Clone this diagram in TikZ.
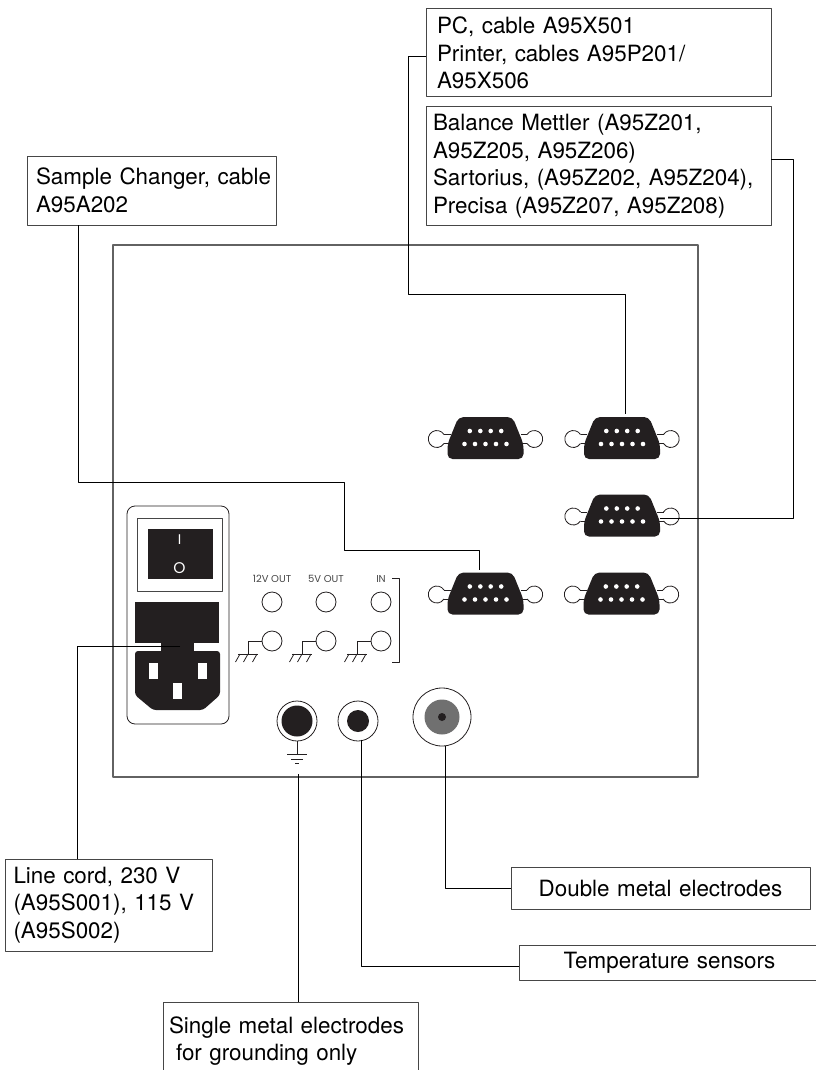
\documentclass[tikz,border=0pt]{standalone}
\usepackage{fontspec}
\setmainfont{TeX Gyre Heros}
\newfontfamily\panelfont{Poppins}
\definecolor{Ink}{RGB}{35,31,32}
\definecolor{Edge}{RGB}{70,70,70}
\definecolor{Sleeve}{RGB}{112,112,112}
\tikzset{
  labelbox/.style={draw=Edge,line width=1pt,outer sep=0pt,inner ysep=0pt,align=left,font=\fontsize{22.4}{27.5}\selectfont},
  wire/.style={draw=black,line width=1pt},
  thinline/.style={draw=Ink,line width=0.8pt},
  plate/.style={draw=Edge!85,line width=1.1pt},
  socket/.style={circle,draw=Ink,line width=0.8pt,fill=white,minimum size=20pt,inner sep=0pt},
  panellabel/.style={text=Edge,inner sep=0pt,font=\panelfont\fontsize{10}{11}\selectfont},
  dsub/.pic={
    \draw[thinline] (-41.5,-3.5) -- (-35,-3.5) (-41.5,5.5) -- (-35,5.5) (41.5,-3.5) -- (35,-3.5) (41.5,5.5) -- (35,5.5);
    \draw[thinline] (-41.5,-3.5) arc[start angle=32,end angle=328,radius=8.5pt];
    \draw[thinline] (41.5,-3.5) arc[start angle=148,end angle=-148,radius=8.5pt];
    \fill[Ink,rounded corners=5pt] (-27,-21) -- (27,-21) -- (38,6) -- (38,21) -- (-38,21) -- (-38,6) -- cycle;
    \foreach \px in {-15.7,-5.2,5.2,15.7} {\fill[white] (\px,-7) circle[radius=2.3pt];}
    \foreach \px in {-21,-10.5,0,10.5,21} {\fill[white] (\px,6) circle[radius=2.3pt];}
  },
  groundmark/.pic={
    \draw[thinline] (14,0) -- (0,0) -- (0,13) (-10,13) -- (10,13);
    \foreach \tx in {-8,0,9} {\draw[thinline] (\tx,13) -- ++(-4.5,8);}
  }
}
\begin{document}
\begin{tikzpicture}[x=1pt,y=-1pt,line join=round]
\path[use as bounding box] (0,0) rectangle (815,1070);
\draw[plate] (113,245) rectangle (698,777);
% power entry
\draw[thinline,rounded corners=8pt] (127,506) rectangle (229,724);
\draw[draw=Edge,line width=1pt] (137,518) rectangle (222,591);
\fill[Ink] (148,529) rectangle (213,579);
\node[text=white,inner sep=0pt,font=\panelfont\fontsize{14}{15}\selectfont] (switchon) at (179.5,540) {I};
\node[text=white,inner sep=0pt,font=\panelfont\fontsize{15.5}{16}\selectfont] (switchoff) at (179.5,568) {O};
\fill[Ink] (135,602) rectangle (219,643);
\fill[Ink] (161,643) rectangle (194,652);
\fill[Ink,rounded corners=3pt] (135,651) -- (220,651) -- (220,695) -- (203,710) -- (153,710) -- (135,695) -- cycle;
\fill[white] (149,663) rectangle (158,679);
\fill[white] (198,663) rectangle (207,679);
\fill[white] (173,683) rectangle (182,699);
% output sockets
\node[panellabel] (label12v) at (272,579) {12V OUT};
\node[panellabel] (label5v) at (326,579) {5V OUT};
\node[panellabel] (labelin) at (381,579) {IN};
\node[socket] (out12v) at (272,602) {};
\node[socket] (out5v) at (326,602) {};
\node[socket] (outin) at (381,602) {};
\node[socket] (gnd12v) at (272,641) {};
\node[socket] (gnd5v) at (326,641) {};
\node[socket] (gndin) at (381,641) {};
\pic at (248,641) {groundmark};
\pic at (302,641) {groundmark};
\pic at (357,641) {groundmark};
\draw[thinline] (392,578) -- (399.5,578) -- (399.5,662) -- (392,662);
% jacks
\node[circle,draw=Ink,line width=0.8pt,minimum size=40pt,inner sep=0pt] (groundjack) at (297,721) {};
\fill[Ink] (groundjack.center) circle[radius=15.5pt];
\node[circle,draw=Ink,line width=0.8pt,minimum size=40pt,inner sep=0pt] (tempjack) at (358,721) {};
\fill[Ink] (tempjack.center) circle[radius=11pt];
\node[circle,draw=Ink,line width=0.8pt,minimum size=58pt,inner sep=0pt] (doublejack) at (442,717) {};
\fill[Sleeve] (doublejack.center) circle[radius=17.5pt];
\fill[Ink] (doublejack.center) circle[radius=4pt];
\draw[thinline] (groundjack.south) -- (297,754) (287,754) -- (307,754) (291,759) -- (303,759) (295,763.5) -- (299,763.5);
% serial ports
\pic at (485.5,438) {dsub};
\pic at (622,438) {dsub};
\pic at (622,515.5) {dsub};
\pic at (485.5,593.5) {dsub};
\pic at (621.5,593.5) {dsub};
% labels
\node[labelbox,text width=323pt,minimum height=88pt,inner xsep=11pt] (pcbox) at (598.5,53) {PC, cable A95X501\\Printer, cables A95P201/\\A95X506};
\node[labelbox,text width=331pt,minimum height=118pt,inner xsep=7pt] (balancebox) at (598.5,166) {Balance Mettler (A95Z201,\\A95Z205, A95Z206)\\Sartorius, (A95Z202, A95Z204),\\Precisa (A95Z207, A95Z208)};
\node[labelbox,text width=231pt,minimum height=69pt,inner xsep=9pt] (samplebox) at (151.5,190.5) {\mbox{Sample Changer, cable}\\A95A202};
\node[labelbox,text width=191pt,minimum height=92pt,inner xsep=8pt] (linebox) at (109,905) {Line cord, 230 V\\(A95S001), 115 V\\(A95S002)};
\node[labelbox,text width=299pt,minimum height=42pt,inner xsep=0pt,align=center] (doublebox) at (660.5,888) {Double metal electrodes};
\node[labelbox,text width=301pt,minimum height=35pt,inner xsep=0pt,align=center] (tempbox) at (669.5,962.5) {Temperature sensors};
\node[labelbox,text width=243pt,minimum height=78pt,inner xsep=6pt] (singlebox) at (290.5,1041) {Single metal electrodes\\\hspace*{7pt}for grounding only};
% wires
\coordinate (pcbend) at (408,57);
\coordinate (pcport) at (625,414);
\draw[wire] (pcbox.west |- pcbend) -- (pcbend) -- (408,294) -- (625,294) -- (pcport);
\coordinate (balancebend) at (793,159);
\coordinate (balanceport) at (660,518);
\draw[wire] (balancebox.east |- balancebend) -- (balancebend) -- (793,518) -- (balanceport);
\coordinate (samplebend) at (78,482);
\coordinate (sampleport) at (479,570);
\draw[wire] (samplebox.south -| samplebend) -- (samplebend) -- (344,482) -- (344,550) -- (479,550) -- (sampleport);
\coordinate (linebend) at (77,646);
\coordinate (lineplug) at (180,646);
\draw[wire] (lineplug) -- (linebend) -- (linebox.north -| linebend);
\coordinate (groundtop) at (298,774);
\draw[wire] (groundtop) -- (singlebox.north -| groundtop);
\coordinate (temptop) at (361,739.5);
\coordinate (tempbend) at (361,966);
\draw[wire] (temptop) -- (tempbend) -- (tempbox.west |- tempbend);
\coordinate (doubletop) at (445,745.5);
\coordinate (doublebend) at (445,888);
\draw[wire] (doubletop) -- (doublebend) -- (doublebox.west);
\end{tikzpicture}
\end{document}
